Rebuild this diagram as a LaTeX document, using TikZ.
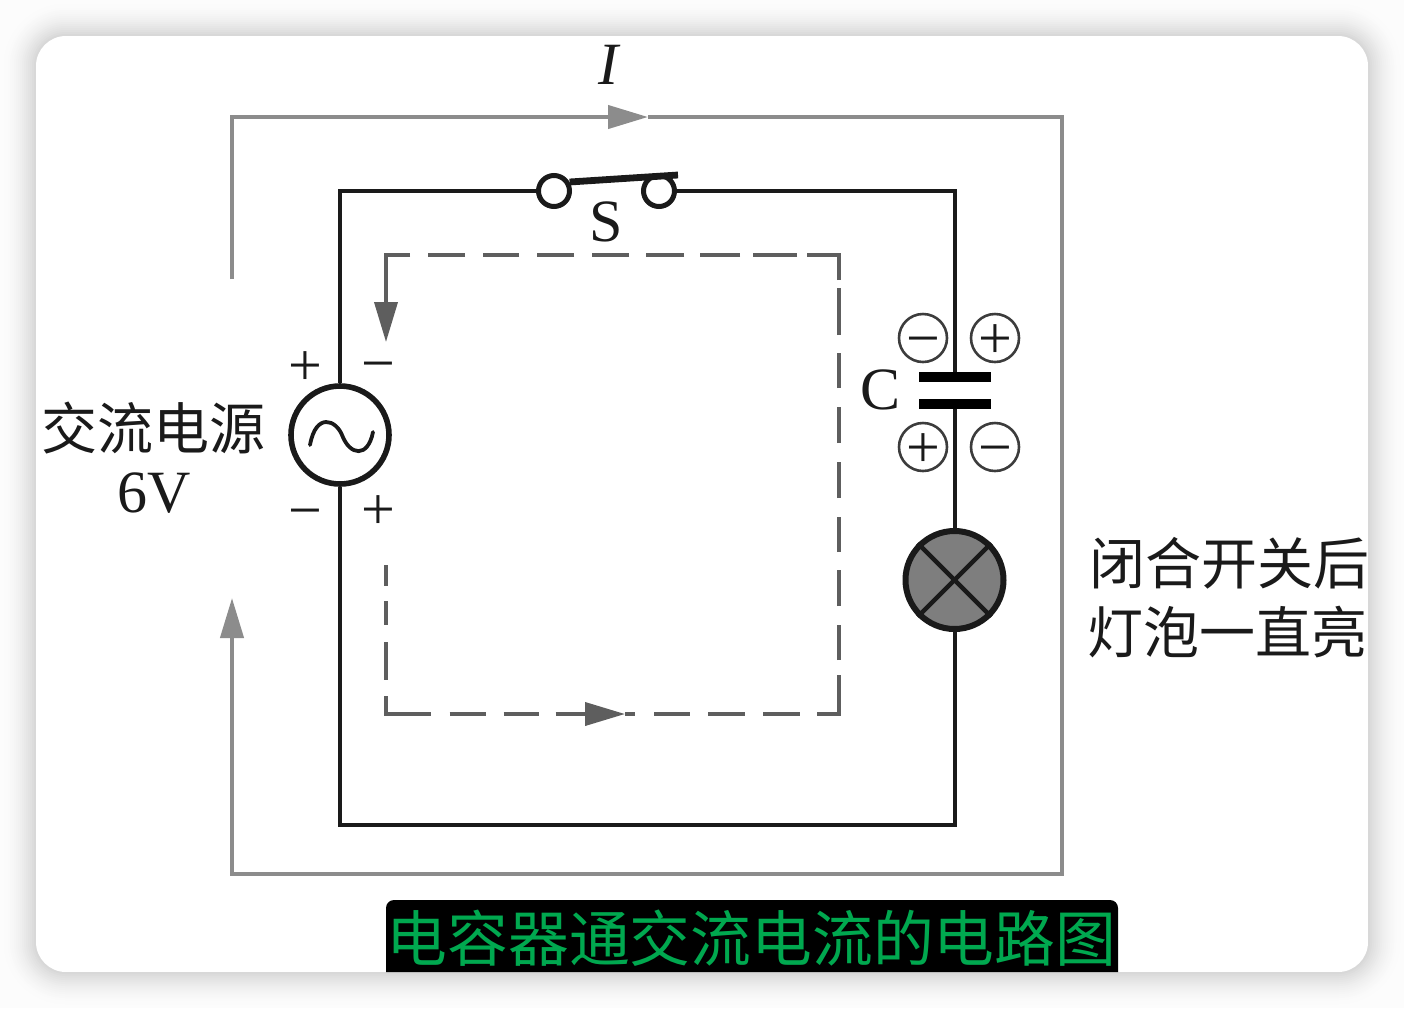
\documentclass[tikz,border=0pt]{standalone}
\usepackage{fontspec}
\setmainfont{Liberation Serif}
\newfontfamily\cjk{Noto Sans CJK SC}
\usetikzlibrary{arrows.meta}
\definecolor{wirecol}{HTML}{1A1A1A}
\definecolor{graycol}{HTML}{8C8C8C}
\definecolor{dashcol}{HTML}{5E5E5E}
\definecolor{capgreen}{HTML}{00A84F}
\newcommand{\sgn}[1]{\raisebox{-2.5pt}{#1}}
\tikzset{
  wire/.style={draw=wirecol,line width=2pt},
  grayline/.style={draw=graycol,line width=2.1pt},
  dashline/.style={draw=dashcol,line width=1.9pt},
  graytip/.style={-{Triangle[length=20pt,width=11.5pt,color=graycol]}},
  darktip/.style={-{Triangle[length=20pt,width=11.5pt,color=dashcol]}},
  lbl/.style={font=\fontsize{30pt}{32pt}\selectfont,text=wirecol,inner sep=0pt},
  sign/.style={font=\fontsize{30pt}{32pt}\selectfont,text=wirecol,inner sep=0pt,text height=15.2pt,text depth=0pt},
  cn/.style={font=\cjk\fontsize{28pt}{34pt}\selectfont,text=wirecol,inner sep=0pt,anchor=west},
  terminal/.style={circle,draw=wirecol,line width=2.5pt,fill=white,minimum size=15.5pt,inner sep=0pt},
  charge/.style={sign,circle,draw=wirecol!85!white,line width=1.3pt,minimum size=24pt,inner sep=0pt},
  plate/.style={fill=black,minimum width=36pt,minimum height=5pt,inner sep=0pt},
}
\begin{document}
\begin{tikzpicture}[x=.5pt,y=-.5pt]
\useasboundingbox (0,0) rectangle (1404,1008);
\fill[white!99!black] (0,0) rectangle (1404,1008);
\foreach \i in {36,34,...,2}{
  \pgfmathsetmacro{\pct}{16*(1-\i/38)*(1-\i/38)+1}
  \pgfmathsetmacro{\rad}{15+\i/2}
  \fill[black!\pct!white,rounded corners=\rad pt] (36-\i,36-\i) rectangle (1368+\i,972+\i);
}
\begin{scope}
\clip[rounded corners=15pt] (36,36) rectangle (1368,972);
\fill[white] (36,36) rectangle (1368,972);

% named places
\coordinate (grayStart) at (232,279);
\coordinate (grayTL) at (232,117);
\coordinate (grayMid) at (648,117);
\coordinate (grayTR) at (1062,117);
\coordinate (grayBR) at (1062,874);
\coordinate (grayBL) at (232,874);
\coordinate (grayEnd) at (232,598);
\coordinate (wireBL) at (340,825);
\coordinate (leverEnd) at (678,175);
\coordinate (dashStart) at (386,565);
\coordinate (dashBL) at (386,714);
\coordinate (dashMid) at (625,714);
\coordinate (dashBR) at (839,714);
\coordinate (dashTR) at (839,255);
\coordinate (dashTL) at (386,255);
\coordinate (dashEnd) at (386,342);

% components
\node[circle,draw=wirecol,line width=2.8pt,fill=white,minimum size=49pt,inner sep=0pt] (src) at (340,435) {};
\node[terminal] (swL) at (554,191) {};
\node[terminal] (swR) at (659,191) {};
\node[plate] (plateA) at (954.5,377) {};
\node[plate] (plateB) at (954.5,404) {};
\node[circle,draw=wirecol,line width=3pt,fill=graycol!90!black,minimum size=49pt,inner sep=0pt] (lamp) at (954.5,580) {};

% wires
\draw[wire] (src.north) |- (swL.west);
\draw[wire] (swR.east) -| (plateA.north);
\draw[wire] (plateB.south) -- (lamp.north);
\draw[wire] (lamp.south) |- (wireBL) -- (src.south);
\draw[draw=wirecol,line width=3.4pt] (swL.30) -- (leverEnd);
\draw[draw=wirecol,line width=2.2pt] (lamp.45) -- (lamp.225);
\draw[draw=wirecol,line width=2.2pt] (lamp.135) -- (lamp.315);
\draw[draw=wirecol,line width=1.9pt,line cap=round] (310,445) .. controls (316,412) and (336,420) .. (342,435) .. controls (350,456) and (368,458) .. (373,432);

% gray current loop
\draw[grayline,graytip] (grayStart) -- (grayTL) -- (grayMid);
\draw[grayline,graytip] (grayMid) -- (grayTR) -- (grayBR) -- (grayBL) -- (grayEnd);

% dashed current loop
\draw[dashline,darktip,dash pattern=on 10.5pt off 7.5pt on 12pt off 8.5pt on 19pt off 8pt on 31.5pt off 9.25pt on 18pt off 9pt on 17.5pt off 8.5pt on 100pt off 1pt] (dashStart) -- (dashBL) -- (dashMid);
\draw[dashline,darktip,dash pattern=on 5pt off 9.5pt on 18pt off 9pt on 18.5pt off 9pt on 18.5pt off 8.5pt on 30.5pt off 7.5pt on 17.5pt off 9.5pt on 18pt off 9pt on 17.5pt off 9.5pt on 18pt off 9.5pt on 18pt off 9.5pt on 17.5pt off 9pt on 23.5pt off 4pt on 28.5pt off 5pt on 22pt off 6.5pt on 20pt off 8pt on 19pt off 8.5pt on 18.5pt off 9pt on 18.5pt off 9pt on 18pt off 9pt on 18.5pt off 9pt on 100pt off 1pt] (dashMid) -- (dashBR) -- (dashTR) -- (dashTL) -- (dashEnd);

% charges
\node[charge] (q1) at (923,338) {\sgn{−}};
\node[charge] (q2) at (995,338) {\sgn{+}};
\node[charge] (q3) at (923,447) {\sgn{+}};
\node[charge] (q4) at (995,447) {\sgn{−}};

% signs at the source
\node[sign] (s1) at (305,365) {\sgn{+}};
\node[sign] (s2) at (378,363) {\sgn{−}};
\node[sign] (s3) at (305,510) {\sgn{−}};
\node[sign] (s4) at (378,509) {\sgn{+}};

% labels
\node[lbl] (lI) at (610,65) {\textit{I}};
\node[lbl] (lS) at (606,222) {S};
\node[lbl] (lC) at (881,390) {C};
\node[cn] (lsrc) at (41,428) {交流电源};
\node[lbl] (l6) at (154,493) {6V};
\node[cn] (lon1) at (1089,563) {闭合开关后};
\node[cn] (lon2) at (1087,632) {灯泡一直亮};

% caption
\fill[black,rounded corners=4pt] (386,900) rectangle (1118,980);
\node[font=\cjk\fontsize{30.4pt}{36pt}\selectfont,text=capgreen,inner sep=0pt] (cap) at (751.5,938) {电容器通交流电流的电路图};
\end{scope}
\end{tikzpicture}
\end{document}
